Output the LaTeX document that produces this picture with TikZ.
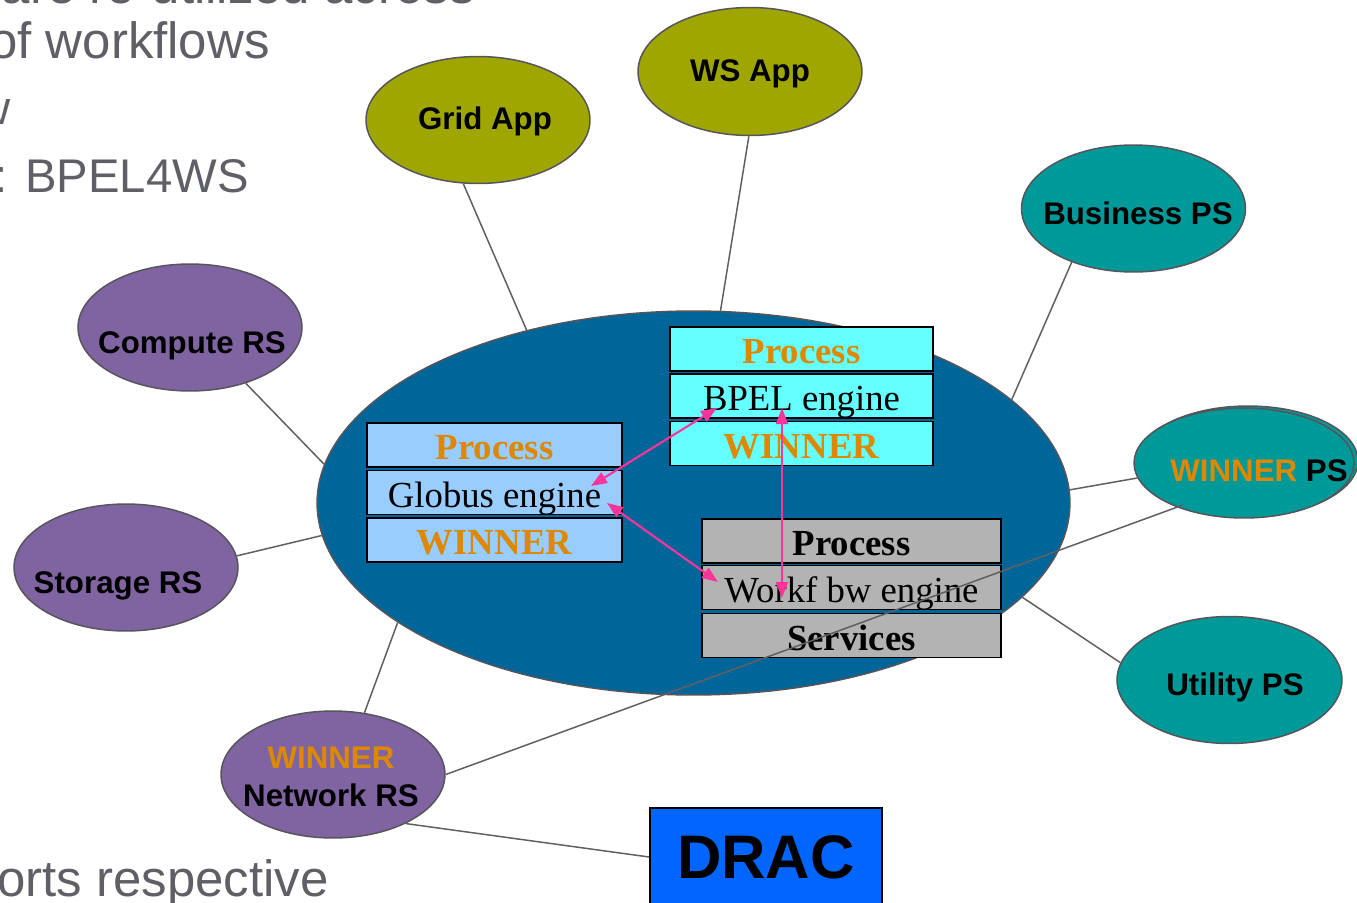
\documentclass[tikz,border=0pt]{standalone}
\usepackage{fontspec}
\setmainfont{Liberation Serif}
\newfontfamily\arialf{Liberation Sans}
\usetikzlibrary{shapes.geometric,arrows.meta}
\definecolor{olivec}{RGB}{160,166,0}
\definecolor{tealc}{RGB}{0,153,153}
\definecolor{purplec}{RGB}{128,100,162}
\definecolor{mainc}{RGB}{0,102,153}
\definecolor{lbluec}{RGB}{153,204,255}
\definecolor{cyanc}{RGB}{102,255,255}
\definecolor{grayc}{RGB}{179,179,179}
\definecolor{dracc}{RGB}{0,102,255}
\definecolor{pinkc}{RGB}{255,51,153}
\definecolor{orangec}{RGB}{221,136,0}
\definecolor{ovalline}{RGB}{85,85,90}
\definecolor{wirec}{RGB}{96,96,100}
\definecolor{slidetext}{RGB}{95,95,102}
\begin{document}
\begin{tikzpicture}[x=0.02cm,y=-0.02cm,
  oval/.style={ellipse, draw=ovalline, line width=0.85pt, inner sep=0pt,
    minimum width=4.48cm, minimum height=2.54cm},
  lbl/.style={font=\arialf\bfseries\fontsize{17.8}{21}\selectfont, inner sep=0pt, anchor=base},
  wire/.style={draw=wirec, line width=0.85pt},
  layer/.style={draw=black, line width=1.1pt, inner sep=0pt, minimum height=0.88cm,
    text height=18.5pt, text depth=1.5pt, font=\fontsize{20.9}{25}\selectfont},
  boldlayer/.style={layer, font=\bfseries\fontsize{20.9}{25}\selectfont},
  parrow/.style={draw=pinkc, line width=1.2pt, {Triangle[length=0.32cm,width=0.24cm]}-{Triangle[length=0.32cm,width=0.24cm]}},
  slide/.style={font=\arialf\fontsize{29}{35}\selectfont, text=slidetext, inner sep=0pt},
  slidesub/.style={font=\arialf\fontsize{26.9}{32}\selectfont, text=slidetext, inner sep=0pt},
]
\useasboundingbox (0,0) rectangle (1357,903);

% background slide text
\node[slide, anchor=base east] (t0) at (475,3) {are re-utilized across};
\node[slide, anchor=base east] (t1) at (270,58) {of workflows};
\node[slidesub, anchor=base east] (t2) at (11,124) {w};
\node[slidesub, anchor=base east] (t3) at (249,192) {: BPEL4WS};
\node[slide, anchor=base east] (t4) at (329,896) {orts respective};

% main ellipse
\node[ellipse, draw=ovalline, line width=0.85pt, fill=mainc, inner sep=0pt,
  minimum width=15.06cm, minimum height=7.68cm] (main) at (693.5,503) {};

% peripheral ellipses
\node[oval, fill=olivec] (grid) at (478,120) {};
\node[oval, fill=olivec, minimum height=2.56cm] (ws) at (750,71.5) {};
\node[oval, fill=tealc] (bus) at (1133.5,208.5) {};
\node[oval, fill=purplec] (comp) at (190,327.5) {};
\node[oval, fill=purplec] (stor) at (126,567.5) {};
\node[oval, fill=tealc, minimum width=4.5cm] (util) at (1229.5,680) {};
\node[oval, fill=purplec] (net) at (333,774.5) {};
\node[oval, fill=tealc, minimum width=4.4cm, minimum height=2.2cm] (wpsb) at (1248,461) {};
\node[oval, fill=tealc, minimum width=4.4cm, minimum height=2.2cm] (wps) at (1244,463) {};

% labels
\node[lbl] (gridl) at (485,129) {Grid App};
\node[lbl] (wsl) at (750,81) {WS App};
\node[lbl] (busl) at (1138,224) {Business PS};
\node[lbl] (compl) at (192,353) {Compute RS};
\node[lbl] (storl) at (118,593) {Storage RS};
\node[lbl] (utill) at (1235,695) {Utility PS};
\node[lbl] (wpsl) at (1259,481) {\textcolor{orangec}{WINNER} PS};
\node[lbl] (netl1) at (331,768) {\textcolor{orangec}{WINNER}};
\node[lbl] (netl2) at (331,806) {Network RS};

% DRAC
\node[draw=black, line width=1.1pt, fill=dracc, inner sep=0pt, minimum width=4.64cm,
  minimum height=1.96cm, text height=25pt, text depth=0pt,
  font=\arialf\bfseries\fontsize{35}{40}\selectfont] (drac) at (766,857) {DRAC};

% connectors
\draw[wire] (grid.257) -- (main.134);
\draw[wire] (ws.269) -- (main.82);
\draw[wire] (bus.221) -- (main.18);
\draw[wire] (comp.315) -- (main.174);
\draw[wire] (stor.6) -- (main.185);
\draw[wire] (net.63) -- (main.202);
\draw[wire] (wps.188) -- (main.2);
\draw[wire] (util.171) -- (main.344);
\draw[wire] (net.326) -- (drac.west);

% stacks
\node[boldlayer, fill=lbluec, minimum width=5.1cm, text=orangec] (gp) at (494.5,445) {Process};
\node[layer, fill=lbluec, minimum width=5.1cm] (ge) at (494.5,492.5) {Globus engine};
\node[boldlayer, fill=lbluec, minimum width=5.1cm, text=orangec] (gw) at (494.5,540) {WINNER};

\node[boldlayer, fill=cyanc, minimum width=5.26cm, text=orangec] (bp) at (801.5,349) {Process};
\node[layer, fill=cyanc, minimum width=5.26cm] (be) at (801.5,396) {BPEL engine};
\node[boldlayer, fill=cyanc, minimum width=5.26cm, text=orangec] (bw) at (801.5,443.5) {WINNER};

\node[boldlayer, fill=grayc, minimum width=5.98cm] (wp) at (851.5,541) {Process};
\node[layer, fill=grayc, minimum width=5.98cm] (we) at (851.5,587.5) {Workf bw engine};
\node[boldlayer, fill=grayc, minimum width=5.98cm] (ws2) at (851.5,635.5) {Services};

% pink arrows
\coordinate (ga) at (591,486);
\coordinate (ba) at (717,408);
\coordinate (gb) at (607,503);
\coordinate (wa) at (718,582);
\coordinate (bt) at (782,408);
\coordinate (wb) at (782,598);
\draw[parrow] (ga) -- (ba);
\draw[parrow] (gb) -- (wa);
\draw[parrow] (bt) -- (wb);

% long wire from WINNER PS to Network RS
\coordinate (wpsin) at (1183,505);
\draw[wire] (wpsin) -- (net.0);
\end{tikzpicture}
\end{document}
